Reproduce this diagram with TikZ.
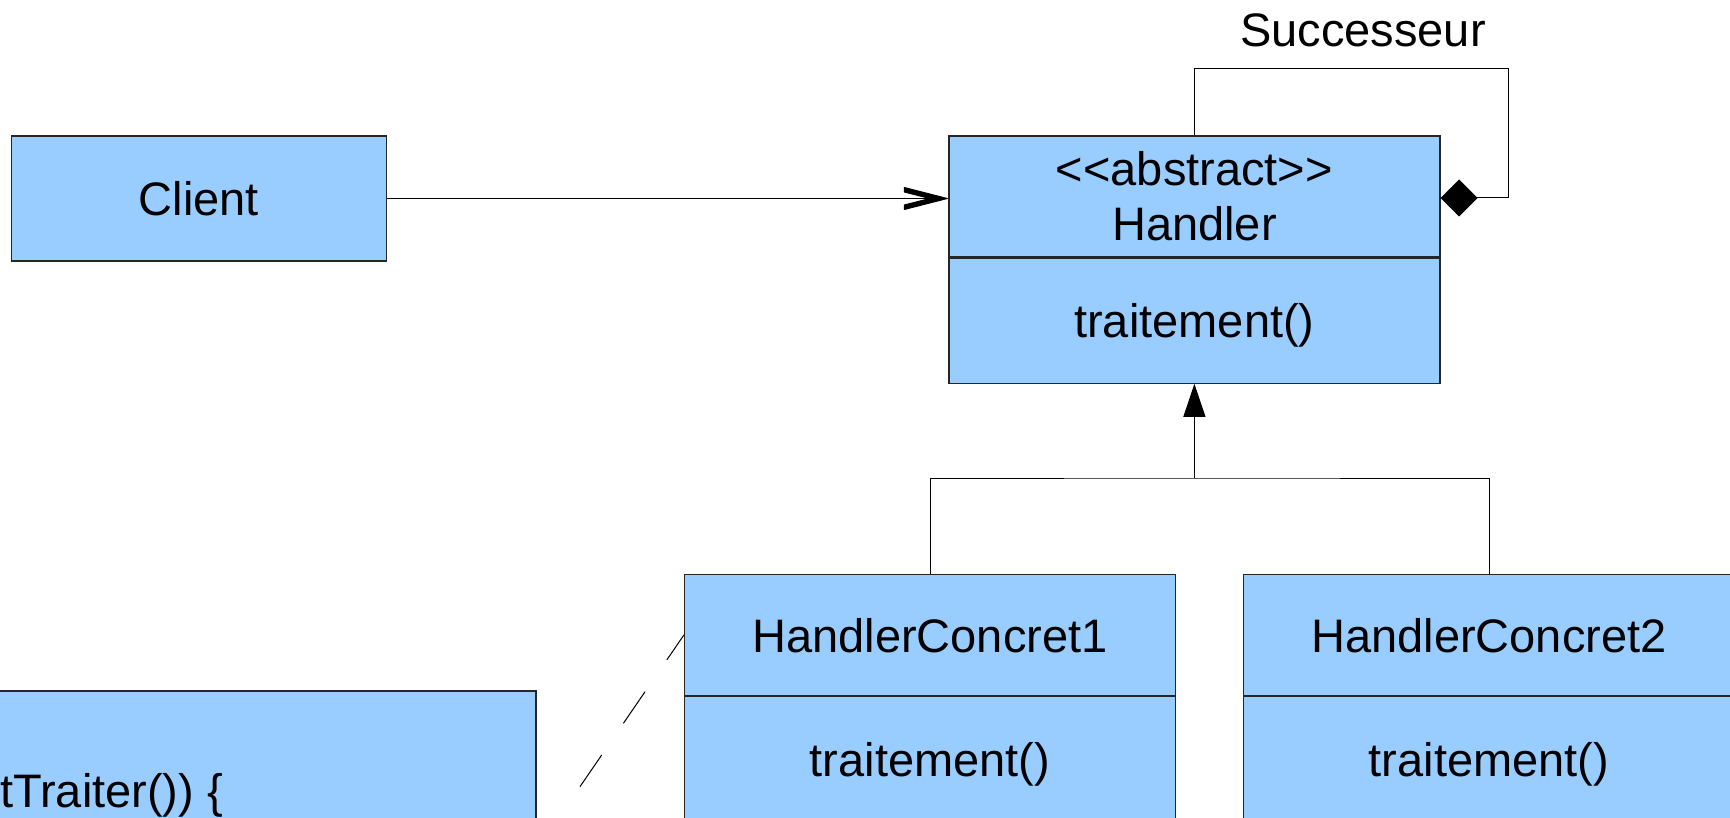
\documentclass[tikz,border=0pt]{standalone}
\usepackage{fontspec}
\setmainfont{Liberation Sans}
\usetikzlibrary{positioning,arrows.meta}
\definecolor{classfill}{RGB}{153,204,255}
\tikzset{
  classbox/.style={draw=black!85, line width=1.2pt, fill=classfill, inner sep=0pt,
    minimum width=491pt, text height=34pt, text depth=0pt},
  link/.style={draw=black, line width=1pt},
}
\begin{document}
\begin{tikzpicture}[x=1pt, y=-1pt, font=\fontsize{47}{55}\selectfont, line join=miter]
  \useasboundingbox (0,0) rectangle (1730,818);
  % classes
  \node[classbox, minimum width=375pt, minimum height=125pt] (client) at (199,198.5) {Client};
  \node[classbox, minimum height=121pt, align=center, text height=88.6pt] (handler) at (1194.4,196.5) {<\kern0pt<abstract>\kern0pt>\\Handler};
  \node[classbox, minimum height=125pt, below=0pt of handler] (handlerop) {traitement()};
  \node[classbox, minimum height=121pt] (concreteA) at (930,635) {HandlerConcret1};
  \node[classbox, minimum height=125pt, below=0pt of concreteA] (concreteAop) {traitement()};
  \node[classbox, minimum height=121pt] (concreteB) at (1489,635) {HandlerConcret2};
  \node[classbox, minimum height=125pt, below=0pt of concreteB] (concreteBop) {traitement()};
  % note
  \node[classbox, minimum width=740pt, minimum height=318pt] (note) at (166,850) {};
  \node[anchor=base west, inner sep=0pt] (notetext) at (0,807) {tTraiter()) \{};
  \node[inner sep=0pt, text height=34pt, text depth=0pt] (succlabel) at (1363,30) {Successeur};
  % links
  \coordinate (assoctip) at ([xshift=-1pt]client -| handler.west);
  \draw[link] (client) -- (assoctip);
  \filldraw[line width=1pt, line join=round, shift={(assoctip)}]
    (0,0) -- (-43,-11) -- (-43,-6.5) -- (-17.5,0) -- (-43,6.5) -- (-43,11) -- cycle;
  \coordinate (loopcorner) at (1508.7,69);
  \coordinate (loopend) at (handler.east |- 0,198);
  \draw[link, -{Diamond[length=37pt, width=37pt]}] (handler.north) |- (loopcorner) |- (loopend);
  \coordinate (fork) at (handlerop.south |- 0,478);
  \draw[link] (concreteA.north) |- (fork) -| (concreteB.north);
  \draw[link, -{Triangle[length=33pt, width=22pt]}] (fork) -- (handlerop.south);
  \draw[link, dash pattern=on 38.4pt off 38.4pt] (note.east) -- (concreteA.west);
\end{tikzpicture}
\end{document}
